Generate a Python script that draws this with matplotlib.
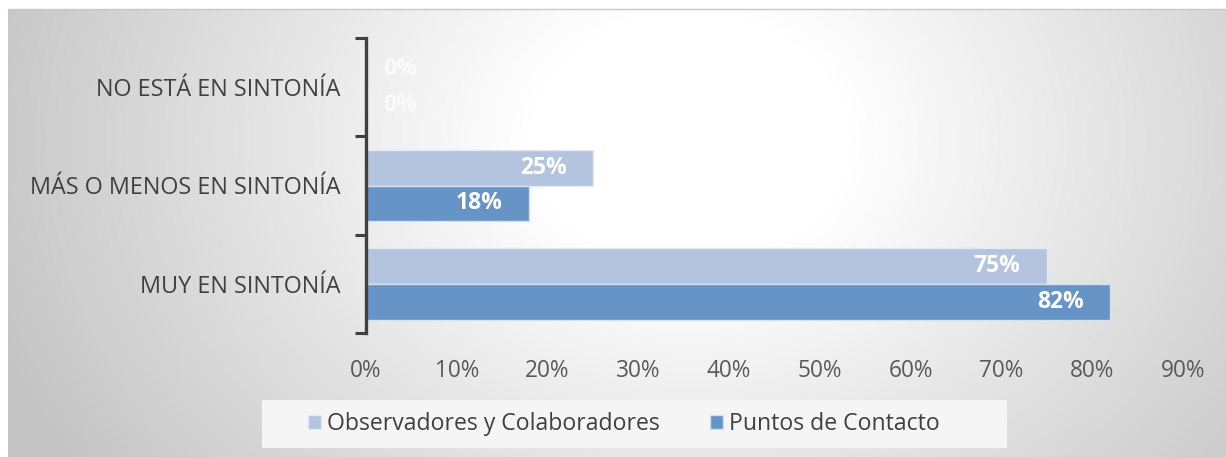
import numpy as np
import matplotlib
matplotlib.use("Agg")
import matplotlib.pyplot as plt
from matplotlib.patches import Rectangle
from matplotlib.ticker import PercentFormatter

categories = ["MUY EN SINTONÍA", "MÁS O MENOS EN SINTONÍA", "NO ESTÁ EN SINTONÍA"]
observadores = [75, 25, 0]
puntos = [82, 18, 0]
series_names = ["Observadores y Colaboradores", "Puntos de Contacto"]
xticks = [0, 10, 20, 30, 40, 50, 60, 70, 80, 90]

W, H = 1226, 457
plt.rcParams['font.family'] = ['Open Sans', 'DejaVu Sans']

fig = plt.figure(figsize=(W / 100, H / 100), dpi=100)
fig.patch.set_facecolor('white')

# radial gradient background
bg = fig.add_axes([8 / W, 0, 1 - 8 / W, (H - 9) / H])
bg.set_axis_off()
nx, ny = 600, 220
xs = np.linspace(8, W, nx)
ys = np.linspace(9, H, ny)
X, Y = np.meshgrid(xs, ys)
cx, cy = 690, 140
r = np.sqrt(((X - cx) / 1.0) ** 2 + ((Y - cy) / 0.8) ** 2)
t = np.clip((r - 160) / 580, 0, 1)
val = 1 - 0.23 * t
img = np.dstack([val, val, val])
bg.imshow(img, aspect='auto', extent=[0, 1, 0, 1], origin='upper', interpolation='bilinear')
bg.plot([0, 1], [1, 1], color='#c8c8c8', lw=1, transform=bg.transAxes, clip_on=False)

ax = fig.add_axes([366 / W, 1 - 333 / H, 817 / W, 295 / H])
ax.set_facecolor('none')

y = np.arange(len(categories))
h = 0.365
c_light = '#B4C4DE'
c_dark = '#6694C6'
b1 = ax.barh(y + h / 2, observadores, height=h, color=c_light, edgecolor='#e3e9f2', lw=1, label=series_names[0])
b2 = ax.barh(y - h / 2, puntos, height=h, color=c_dark, edgecolor='#d5e0ee', lw=1, label=series_names[1])

ax.set_xlim(0, 90)
ax.set_ylim(-0.5, 2.5)
ax.set_xticks(xticks)
ax.xaxis.set_major_formatter(PercentFormatter(decimals=0))
ax.set_yticks([-0.5, 0.5, 1.5, 2.5])
ax.set_yticklabels([])
ax.set_yticks(y, minor=True)
ax.set_yticklabels(categories, minor=True)
ax.tick_params(axis='y', which='major', length=8, width=2.2, color='#404040', direction='out')
ax.tick_params(axis='y', which='minor', length=0, pad=18.5, labelsize=16.8, labelcolor='#404040')
ax.tick_params(axis='x', length=0, pad=19, labelsize=16.3, labelcolor='#595959')
for s in ['top', 'right', 'bottom']:
    ax.spines[s].set_visible(False)
ax.spines['left'].set_color('#404040')
ax.spines['left'].set_linewidth(2.4)

for bars, vals in ((b1, observadores), (b2, puntos)):
    for bar, v in zip(bars, vals):
        yc = bar.get_y() + bar.get_height() / 2
        if v == 0:
            ax.annotate(f"{v}%", (0, yc), xytext=(12, 0), textcoords='offset points',
                        ha='left', va='center', color='#fbfbfb', fontsize=16.5, fontweight='bold')
        else:
            ax.annotate(f"{v}%", (v, yc), xytext=(-19, 0), textcoords='offset points',
                        ha='right', va='center', color='white', fontsize=16.5, fontweight='bold')

# legend box
fig.patches.append(Rectangle((262 / W, 1 - 448 / H), (1007 - 262) / W, 48 / H,
                             transform=fig.transFigure, facecolor='#f5f5f5', edgecolor='none', zorder=1))
leg = fig.legend(handles=[b1, b2], loc='center', bbox_to_anchor=(624 / W, 1 - 424 / H),
                 ncol=2, frameon=False, fontsize=16.6, handlelength=0.55, handleheight=0.55,
                 handletextpad=0.25, columnspacing=2.2)
for t in leg.get_texts():
    t.set_color('#404040')

fig.savefig('out.png', dpi=100)
